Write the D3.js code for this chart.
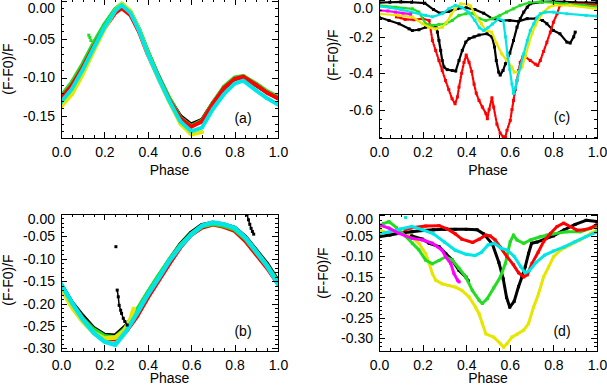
<!DOCTYPE html>
<html>
<head>
<meta charset="utf-8">
<script src="https://cdn.jsdelivr.net/npm/d3@7"></script>
<style>
  body { margin: 0; background: #fff; }
  svg text { font-family: "Liberation Sans", Arial, sans-serif; font-size: 14px; fill: #000; }
</style>
</head>
<body>
<div id="chart"></div>
<script>
// ---- tick values ----
const xTicks = [0, 0.2, 0.4, 0.6, 0.8, 1.0];
const yTicksA = [0, -0.05, -0.10, -0.15];
const yTicksB = [0, -0.05, -0.10, -0.15, -0.20, -0.25, -0.30];
const yTicksC = [0, -0.2, -0.4, -0.6];
const yTicksD = [0, -0.05, -0.10, -0.15, -0.20, -0.25, -0.30];

// ---- panel (a) ----
const phaseA = [0, 0.05, 0.1, 0.15, 0.2, 0.25, 0.28, 0.32, 0.36, 0.4, 0.45, 0.5, 0.55, 0.6, 0.65, 0.7, 0.75, 0.8, 0.84, 0.9, 0.95, 1.0];
const aBlack  = [-0.125, -0.108, -0.084, -0.057, -0.032, -0.012, -0.005, -0.015, -0.038, -0.067, -0.099, -0.128, -0.150, -0.161, -0.155, -0.133, -0.114, -0.102, -0.099, -0.110, -0.119, -0.127];
const aRed    = [-0.127, -0.110, -0.087, -0.060, -0.036, -0.016, -0.010, -0.019, -0.041, -0.070, -0.101, -0.130, -0.153, -0.164, -0.157, -0.134, -0.114, -0.102, -0.099, -0.110, -0.120, -0.127];
const aGreen  = [-0.124, -0.106, -0.082, -0.055, -0.031, -0.011, -0.004, -0.014, -0.037, -0.066, -0.099, -0.127, -0.152, -0.163, -0.156, -0.133, -0.112, -0.100, -0.098, -0.108, -0.118, -0.125];
const aCyan   = [-0.132, -0.115, -0.090, -0.062, -0.035, -0.013, -0.006, -0.016, -0.039, -0.069, -0.101, -0.131, -0.157, -0.170, -0.165, -0.141, -0.122, -0.108, -0.104, -0.117, -0.127, -0.135];
const aYellowPhase = [0, 0.05, 0.1, 0.15, 0.2, 0.25, 0.28, 0.32, 0.36, 0.4, 0.45, 0.5, 0.55, 0.6, 0.65];
const aYellow = [-0.138, -0.122, -0.096, -0.066, -0.037, -0.013, -0.004, -0.014, -0.038, -0.069, -0.102, -0.132, -0.160, -0.174, -0.171];
const aGreenSpotPhase = [0.128, 0.133, 0.138];
const aGreenSpot = [-0.045, -0.048, -0.052];

// ---- panel (b) ----
const phaseB = [0, 0.05, 0.1, 0.15, 0.2, 0.25, 0.3, 0.35, 0.4, 0.45, 0.5, 0.55, 0.6, 0.65, 0.7, 0.75, 0.8, 0.85, 0.9, 0.95, 1.0];
const bBlack = [-0.158, -0.198, -0.228, -0.255, -0.270, -0.272, -0.250, -0.218, -0.177, -0.140, -0.103, -0.068, -0.042, -0.025, -0.020, -0.024, -0.031, -0.052, -0.082, -0.112, -0.150];
const bRed   = [-0.165, -0.205, -0.238, -0.262, -0.278, -0.280, -0.262, -0.228, -0.186, -0.148, -0.110, -0.074, -0.046, -0.030, -0.023, -0.028, -0.037, -0.060, -0.090, -0.120, -0.155];
const bGreen = [-0.162, -0.201, -0.234, -0.258, -0.273, -0.276, -0.254, -0.215, -0.176, -0.138, -0.102, -0.070, -0.045, -0.027, -0.022, -0.026, -0.034, -0.055, -0.085, -0.116, -0.152];
const bCyan  = [-0.157, -0.198, -0.235, -0.265, -0.285, -0.292, -0.262, -0.222, -0.180, -0.143, -0.104, -0.072, -0.046, -0.026, -0.019, -0.023, -0.031, -0.053, -0.084, -0.116, -0.156];
const bYellowPhase = [0, 0.05, 0.1, 0.15, 0.2, 0.25, 0.29, 0.32, 0.335];
const bYellow = [-0.165, -0.208, -0.240, -0.265, -0.278, -0.276, -0.262, -0.235, -0.212];
const bBlackDipPhase = [0.259, 0.264, 0.268, 0.275, 0.279, 0.287, 0.294, 0.305];
const bBlackDip = [-0.170, -0.185, -0.204, -0.215, -0.222, -0.233, -0.240, -0.248];
const bBlackSpikePhase = [0.857, 0.864, 0.870, 0.876, 0.882, 0.888];
const bBlackSpike = [-0.002, -0.013, -0.023, -0.032, -0.039, -0.045];
const bBlackDotPhase = [0.253];
const bBlackDot = [-0.073];

// ---- panel (c) ----
const cBlackPhase = [0, 0.046, 0.092, 0.138, 0.153, 0.183, 0.214, 0.245, 0.262, 0.268, 0.275, 0.283, 0.29, 0.298, 0.313, 0.336, 0.352, 0.367, 0.382, 0.398, 0.413, 0.436, 0.459, 0.495, 0.518, 0.53, 0.538, 0.549, 0.556, 0.569, 0.58, 0.6, 0.617, 0.633, 0.648, 0.664, 0.68, 0.694, 0.75, 0.8, 0.85, 0.9, 0.95, 1.0];
const cBlack = [-0.092, -0.11, -0.128, -0.156, -0.165, -0.161, -0.147, -0.143, -0.15, -0.174, -0.22, -0.275, -0.33, -0.366, -0.38, -0.385, -0.388, -0.33, -0.275, -0.229, -0.21, -0.20, -0.19, -0.183, -0.20, -0.256, -0.33, -0.394, -0.41, -0.385, -0.348, -0.29, -0.22, -0.147, -0.10, -0.064, -0.037, -0.018, -0.008, -0.006, -0.008, -0.01, -0.012, -0.012];
const cBlackTopPhase = [0, 0.05, 0.1, 0.15, 0.21, 0.25, 0.28, 0.32, 0.36, 0.40, 0.44, 0.48, 0.52, 0.56, 0.60, 0.64, 0.68, 0.72, 0.75, 0.77, 0.80, 0.83, 0.862, 0.877, 0.893, 0.90];
const cBlackTop = [-0.012, -0.010, -0.008, -0.010, -0.015, -0.05, -0.07, -0.06, -0.045, -0.04, -0.05, -0.07, -0.10, -0.11, -0.11, -0.115, -0.10, -0.10, -0.11, -0.128, -0.165, -0.183, -0.229, -0.234, -0.20, -0.174];
const cRedPhase = [0.08, 0.12, 0.16, 0.2, 0.23, 0.245, 0.26, 0.275, 0.29, 0.305, 0.32, 0.335, 0.349, 0.36, 0.367, 0.379, 0.39, 0.40, 0.413, 0.425, 0.436, 0.446, 0.459, 0.474, 0.49, 0.497, 0.505, 0.518, 0.526, 0.541, 0.556, 0.57, 0.58, 0.587, 0.602, 0.61, 0.617, 0.625, 0.633, 0.64, 0.648, 0.66, 0.671, 0.694, 0.717, 0.728, 0.74, 0.755, 0.77, 0.786, 0.80, 0.817, 0.83, 0.862, 0.9, 0.95, 1.0];
const cRed = [-0.09, -0.104, -0.106, -0.10, -0.11, -0.22, -0.275, -0.33, -0.385, -0.44, -0.49, -0.54, -0.568, -0.53, -0.476, -0.40, -0.34, -0.30, -0.34, -0.39, -0.46, -0.51, -0.55, -0.586, -0.62, -0.65, -0.60, -0.535, -0.586, -0.68, -0.73, -0.75, -0.75, -0.714, -0.66, -0.60, -0.55, -0.49, -0.44, -0.385, -0.34, -0.31, -0.31, -0.33, -0.35, -0.357, -0.33, -0.28, -0.23, -0.174, -0.12, -0.073, -0.027, -0.018, -0.02, -0.022, -0.027];
const cGreenPhase = [0, 0.076, 0.153, 0.183, 0.214, 0.245, 0.275, 0.306, 0.336, 0.367, 0.398, 0.428, 0.46, 0.49, 0.52, 0.555, 0.585, 0.616, 0.647, 0.69, 0.74, 0.80, 0.86, 0.94, 1.0];
const cGreen = [-0.027, -0.037, -0.046, -0.064, -0.128, -0.137, -0.132, -0.128, -0.11, -0.082, -0.073, -0.07, -0.10, -0.11, -0.10, -0.082, -0.064, -0.046, -0.027, -0.012, -0.008, -0.012, -0.018, -0.027, -0.035];
const cYellowPhase = [0, 0.09, 0.153, 0.2, 0.23, 0.26, 0.29, 0.31, 0.33, 0.35, 0.375, 0.405, 0.42, 0.448, 0.47, 0.49, 0.517, 0.54, 0.563, 0.586, 0.61, 0.62, 0.64, 0.656, 0.671, 0.687, 0.702, 0.717, 0.733, 0.755, 0.78, 0.80, 0.877, 1.0];
const cYellow = [-0.073, -0.082, -0.09, -0.128, -0.147, -0.156, -0.147, -0.12, -0.08, -0.045, -0.018, -0.022, -0.03, -0.092, -0.128, -0.165, -0.174, -0.238, -0.293, -0.33, -0.366, -0.394, -0.394, -0.366, -0.31, -0.238, -0.183, -0.137, -0.10, -0.064, -0.037, -0.027, -0.027, -0.046];
const cCyanPhase = [0, 0.05, 0.1, 0.15, 0.214, 0.245, 0.29, 0.32, 0.35, 0.38, 0.41, 0.44, 0.46, 0.48, 0.50, 0.52, 0.55, 0.57, 0.58, 0.59, 0.60, 0.61, 0.617, 0.625, 0.633, 0.648, 0.664, 0.68, 0.694, 0.71, 0.725, 0.74, 0.763, 0.80, 0.862, 0.95, 1.0];
const cCyan = [-0.033, -0.04, -0.05, -0.064, -0.082, -0.09, -0.073, -0.046, -0.027, -0.037, -0.064, -0.11, -0.15, -0.165, -0.15, -0.13, -0.10, -0.11, -0.20, -0.30, -0.38, -0.46, -0.51, -0.48, -0.44, -0.366, -0.293, -0.22, -0.165, -0.128, -0.092, -0.073, -0.064, -0.064, -0.073, -0.082, -0.086];
const cMagentaPhase = [0, 0.04, 0.076, 0.11, 0.145];
const cMagenta = [-0.055, -0.058, -0.064, -0.07, -0.075];

// ---- panel (d) ----
const dBlackPhase = [0, 0.05, 0.1, 0.15, 0.2, 0.25, 0.3, 0.35, 0.4, 0.45, 0.48, 0.52, 0.55, 0.57, 0.585, 0.60, 0.62, 0.64, 0.656, 0.671, 0.686, 0.70, 0.725, 0.76, 0.80, 0.85, 0.9, 0.95, 1.0];
const dBlack = [-0.052, -0.048, -0.043, -0.040, -0.037, -0.035, -0.034, -0.034, -0.034, -0.035, -0.045, -0.07, -0.115, -0.155, -0.20, -0.224, -0.21, -0.174, -0.15, -0.125, -0.093, -0.068, -0.065, -0.058, -0.05, -0.035, -0.022, -0.012, -0.015];
const dBlackDiagPhase = [0.15, 0.2, 0.23, 0.275, 0.306, 0.336, 0.367, 0.398, 0.41];
const dBlackDiag = [-0.05, -0.058, -0.068, -0.076, -0.093, -0.109, -0.134, -0.150, -0.16];
const dRedPhase = [0.12, 0.15, 0.214, 0.275, 0.31, 0.35, 0.38, 0.43, 0.46, 0.49, 0.51, 0.533, 0.557, 0.586, 0.616, 0.64, 0.664, 0.68, 0.702, 0.73, 0.755, 0.786, 0.817, 0.847, 0.877, 0.908, 0.94, 0.97, 1.0];
const dRed = [-0.035, -0.03, -0.026, -0.025, -0.032, -0.045, -0.058, -0.066, -0.058, -0.048, -0.05, -0.06, -0.078, -0.10, -0.12, -0.14, -0.150, -0.145, -0.117, -0.09, -0.064, -0.044, -0.027, -0.019, -0.027, -0.036, -0.035, -0.031, -0.022];
const dGreenPhase = [0, 0.02, 0.046, 0.08, 0.12, 0.153, 0.183, 0.214, 0.245, 0.275, 0.306, 0.336, 0.367, 0.398, 0.428, 0.459, 0.474, 0.497, 0.526, 0.557, 0.58, 0.602, 0.617, 0.633, 0.664, 0.694, 0.74, 0.77, 0.80, 0.862, 0.923, 1.0];
const dGreen = [-0.028, -0.02, -0.015, -0.03, -0.05, -0.068, -0.084, -0.109, -0.118, -0.11, -0.101, -0.109, -0.129, -0.150, -0.183, -0.207, -0.215, -0.203, -0.177, -0.150, -0.117, -0.064, -0.048, -0.06, -0.068, -0.06, -0.052, -0.048, -0.045, -0.04, -0.04, -0.027];
const dYellowPhase = [0, 0.046, 0.092, 0.138, 0.183, 0.214, 0.23, 0.245, 0.26, 0.29, 0.32, 0.35, 0.38, 0.413, 0.443, 0.459, 0.474, 0.49, 0.526, 0.557, 0.572, 0.587, 0.61, 0.633, 0.664, 0.686, 0.709, 0.732, 0.755, 0.778, 0.80, 0.832, 0.877, 0.923, 0.97, 1.0];
const dYellow = [-0.035, -0.044, -0.04, -0.048, -0.068, -0.093, -0.117, -0.142, -0.158, -0.167, -0.171, -0.175, -0.183, -0.199, -0.224, -0.24, -0.264, -0.289, -0.297, -0.313, -0.322, -0.313, -0.297, -0.29, -0.28, -0.264, -0.224, -0.191, -0.15, -0.126, -0.101, -0.085, -0.072, -0.06, -0.044, -0.036];
const dCyanPhase = [0, 0.05, 0.1, 0.15, 0.2, 0.25, 0.3, 0.35, 0.4, 0.44, 0.47, 0.5, 0.53, 0.56, 0.59, 0.62, 0.65, 0.67, 0.69, 0.72, 0.76, 0.8, 0.85, 0.9, 0.95, 1.0];
const dCyan = [-0.045, -0.04, -0.033, -0.027, -0.035, -0.045, -0.065, -0.085, -0.095, -0.098, -0.09, -0.072, -0.068, -0.08, -0.085, -0.10, -0.125, -0.14, -0.135, -0.115, -0.097, -0.087, -0.077, -0.064, -0.052, -0.04];
const dCyanDotPhase = [0.122];
const dCyanDot = [-0.005];
const dMagentaPhase = [0, 0.046, 0.092, 0.153, 0.2, 0.245, 0.29, 0.306, 0.329, 0.344, 0.36, 0.367];
const dMagenta = [-0.023, -0.031, -0.044, -0.056, -0.06, -0.068, -0.085, -0.101, -0.117, -0.142, -0.158, -0.162];

const colors = {
    black: "#000000", red: "#ff0000", green: "#22dd22",
    yellow: "#e6e600", cyan: "#00e6e6", magenta: "#ff00ff"
};

// layout of the four panels
const panels = [
    { left: 61, right: 278, top: -1, bottom: 138, yDomain: [-0.1786, 0.002], yTicks: yTicksA, yMinor: 0.01, digits: 2,
      letter: "(a)", letterX: 243, letterY: 123, titleX: 12.5, titleY: 69, phaseY: 175, lw: 4,
      series: [[phaseA, aBlack, "black"], [phaseA, aGreen, "green"], [phaseA, aRed, "red"],
               [aYellowPhase, aYellow, "yellow"], [phaseA, aCyan, "cyan"], [aGreenSpotPhase, aGreenSpot, "green", "dots"]] },
    { left: 61, right: 278, top: 214, bottom: 351, yDomain: [-0.306, 0], yTicks: yTicksB, yMinor: 0.01, digits: 2,
      letter: "(b)", letterX: 243, letterY: 336, titleX: 12.5, titleY: 280, phaseY: 383, lw: 4.5,
      series: [[phaseB, bBlack, "black"], [phaseB, bRed, "red"], [phaseB, bGreen, "green"],
               [bYellowPhase, bYellow, "yellow"], [phaseB, bCyan, "cyan"],
               [bBlackDipPhase, bBlackDip, "black", "thin"], [bBlackSpikePhase, bBlackSpike, "black", "thin"],
               [bBlackDotPhase, bBlackDot, "black", "dots"]] },
    { left: 379, right: 597, top: -1, bottom: 138, yDomain: [-0.756, 0.008], yTicks: yTicksC, yMinor: 0.05, digits: 1,
      letter: "(c)", letterX: 562, letterY: 122, titleX: 338, titleY: 55, phaseY: 175, lw: 2.2,
      series: [[cBlackTopPhase, cBlackTop, "black"], [cBlackPhase, cBlack, "black"], [cRedPhase, cRed, "red", "dotted"],
               [cGreenPhase, cGreen, "green"], [cYellowPhase, cYellow, "yellow"], [cCyanPhase, cCyan, "cyan"],
               [cMagentaPhase, cMagenta, "magenta"]] },
    { left: 379, right: 597, top: 214, bottom: 351, yDomain: [-0.331, 0.0035], yTicks: yTicksD, yMinor: 0.01, digits: 2,
      letter: "(d)", letterX: 562, letterY: 336, titleX: 328, titleY: 273, phaseY: 383, lw: 3,
      series: [[dYellowPhase, dYellow, "yellow"], [dBlackPhase, dBlack, "black"], [dBlackDiagPhase, dBlackDiag, "black"],
               [dGreenPhase, dGreen, "green"], [dRedPhase, dRed, "red"], [dCyanPhase, dCyan, "cyan"],
               [dCyanDotPhase, dCyanDot, "cyan", "dots"], [dMagentaPhase, dMagenta, "magenta"]] }
];

const svg = d3.select("#chart")
    .append("svg")
    .attr("width", 607)
    .attr("height", 386);

function stepTicks(lo, hi, step) {
    const i0 = Math.ceil(lo / step - 1e-6), i1 = Math.floor(hi / step + 1e-6);
    return d3.range(i0, i1 + 1).map(i => +(i * step).toFixed(4));
}

panels.forEach((p, k) => {
    const x = d3.scaleLinear().domain([0, 1]).range([p.left, p.right]);
    const y = d3.scaleLinear().domain(p.yDomain).range([p.bottom, p.top]);

    svg.append("clipPath").attr("id", "clip" + k)
        .append("rect")
        .attr("x", p.left).attr("y", p.top)
        .attr("width", p.right - p.left).attr("height", p.bottom - p.top);

    const plot = svg.append("g").attr("clip-path", `url(#clip${k})`);

    // light curves
    p.series.forEach(([phase, vals, col, style]) => {
        const pts = phase.map((ph, i) => [ph, vals[i]]);
        if (style !== "dots") {
            plot.append("path")
                .datum(pts)
                .attr("fill", "none")
                .attr("stroke", colors[col])
                .attr("stroke-width", style === "thin" ? 1.5 : p.lw)
                .attr("stroke-linejoin", "round")
                .attr("stroke-linecap", "round")
                .attr("stroke-dasharray", style === "dotted" ? "2,1.6" : null)
                .attr("d", d3.line().x(d => x(d[0])).y(d => y(d[1])));
        }
        plot.selectAll(null)
            .data(pts)
            .join("rect")
            .attr("x", d => x(d[0]) - 1.5)
            .attr("y", d => y(d[1]) - 1.5)
            .attr("width", 3)
            .attr("height", 3)
            .attr("fill", colors[col]);
    });

    // axes: ticks inward on all four sides
    const xMinor = stepTicks(0, 1, 0.05);
    const yMinor = stepTicks(p.yDomain[0], p.yDomain[1], p.yMinor);
    const fmtX = d => d.toFixed(1);
    const fmtY = d => d.toFixed(p.digits);

    const addAxis = (axis, tr, vals, len, fmt, pad) => {
        const g = svg.append("g")
            .attr("transform", tr)
            .attr("shape-rendering", "crispEdges")
            .call(axis.tickValues(vals).tickSize(-len).tickPadding(pad || 3).tickFormat(fmt || ""));
        g.select(".domain").remove();
        return g;
    };

    addAxis(d3.axisBottom(x), `translate(0,${p.bottom})`, xMinor, 3);
    addAxis(d3.axisTop(x), `translate(0,${p.top})`, xMinor, 3);
    addAxis(d3.axisTop(x), `translate(0,${p.top})`, xTicks, 6);
    addAxis(d3.axisBottom(x), `translate(0,${p.bottom})`, xTicks, 6, fmtX, 9);

    addAxis(d3.axisLeft(y), `translate(${p.left},0)`, yMinor, 3);
    addAxis(d3.axisRight(y), `translate(${p.right},0)`, yMinor, 3);
    addAxis(d3.axisRight(y), `translate(${p.right},0)`, p.yTicks, 6);
    const yAxis = addAxis(d3.axisLeft(y), `translate(${p.left},0)`, p.yTicks, 6, fmtY, 6);
    // keep the topmost label inside the window / frame
    const labelFloor = p.top <= 0 ? 13 : p.top + 9.5;
    yAxis.selectAll("text")
        .attr("y", d => Math.max(0, labelFloor - (y(d) + 4.5)));

    // frame
    svg.append("rect")
        .attr("x", p.left).attr("y", p.top)
        .attr("width", p.right - p.left).attr("height", p.bottom - p.top)
        .attr("fill", "none").attr("stroke", "#000")
        .attr("shape-rendering", "crispEdges");

    // titles
    svg.append("text")
        .attr("x", (p.left + p.right) / 2)
        .attr("y", p.phaseY)
        .attr("text-anchor", "middle")
        .text("Phase");

    svg.append("text")
        .attr("transform", `translate(${p.titleX},${p.titleY}) rotate(-90)`)
        .attr("text-anchor", "middle")
        .text("(F-F0)/F");

    svg.append("text")
        .attr("x", p.letterX)
        .attr("y", p.letterY)
        .attr("text-anchor", "middle")
        .text(p.letter);
});
</script>
</body>
</html>
